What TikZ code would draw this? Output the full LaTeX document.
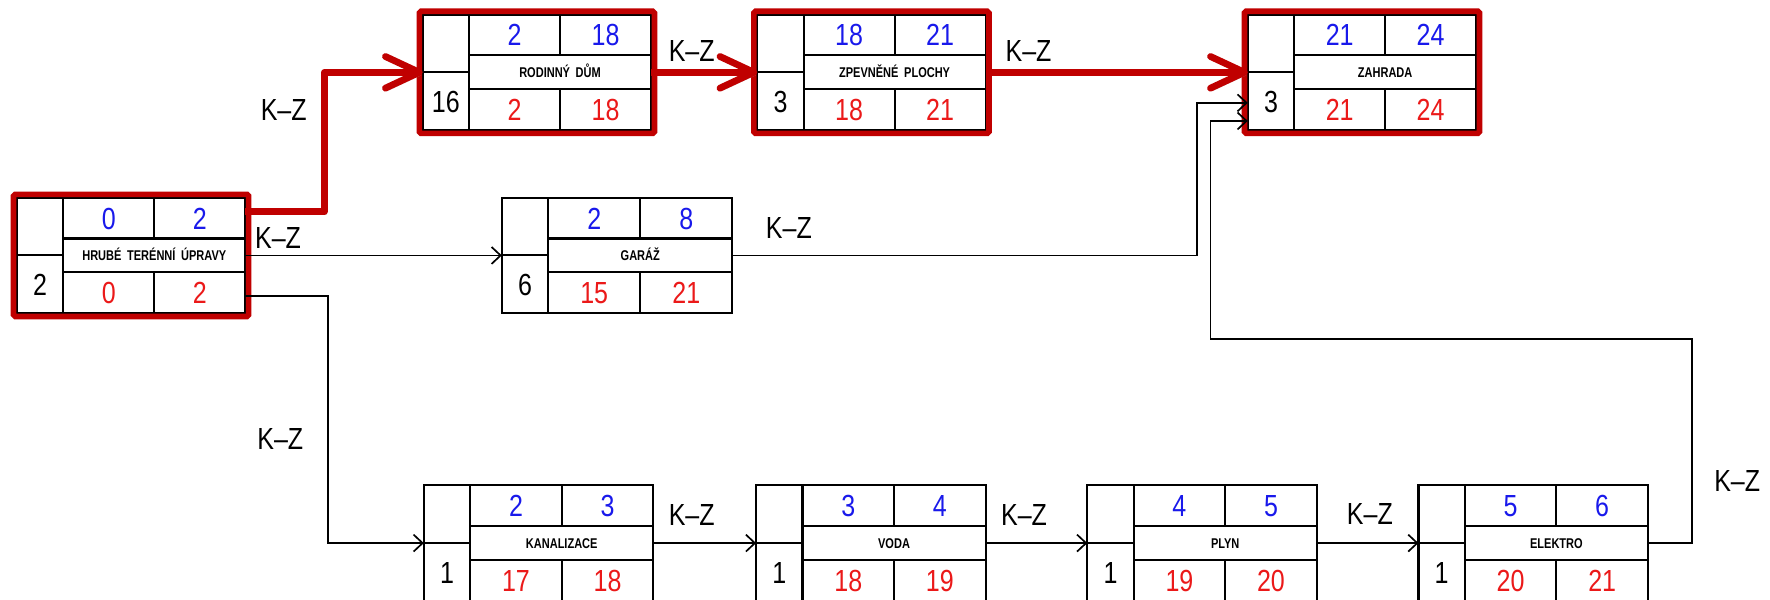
\documentclass[tikz,border=0pt]{standalone}
\usepackage{fontspec}
\usetikzlibrary{arrows.meta,calc}
\newfontfamily\cadfont[FakeStretch=0.82]{Liberation Sans}
\newfontfamily\cadbold[FakeStretch=0.78]{Liberation Sans Bold}
\definecolor{crit}{RGB}{192,0,0}
\definecolor{esblue}{RGB}{25,25,235}
\definecolor{lsred}{RGB}{235,25,25}
\newcommand\actw{202}
\newcommand\wsp{\hspace{5pt}}
\newcommand\activity[9]{%
  \pgfmathsetmacro\am{(\actw+41)/2}%
  \pgfmathsetmacro\ac{(41+\am)/2}%
  \pgfmathsetmacro\ad{(\am+\actw)/2}%
  \pgfmathsetmacro\an{(41+\actw)/2}%
  \begin{scope}[shift={(#2,#3)}]
    \node[actbox, minimum width=\actw pt] (#1) at (0,0) {};
    \draw[boxline] (41,0) -- (41,102) (0,51) -- (41,51)
      (41,36) -- (\actw,36) (41,66) -- (\actw,66)
      (\am,0) -- (\am,36) (\am,66) -- (\am,102);
    \node[numtxt] at (20.5,77) {#4};
    \node[numtxt,text=esblue] at (\ac,18) {#5};
    \node[numtxt,text=esblue] at (\ad,18) {#6};
    \node[titletxt] at (\an,51) {#7};
    \node[numtxt,text=lsred] at (\ac,84) {#8};
    \node[numtxt,text=lsred] at (\ad,84) {#9};
  \end{scope}}
\newcommand\critical[1]{\draw[critbox] ($(#1.north west)+(-3,-3)$) rectangle ($(#1.south east)+(3,3)$);}
\tikzset{
  actbox/.style={draw, line width=1.8pt, minimum height=102pt, inner sep=0pt, outer sep=0pt, anchor=north west},
  boxline/.style={line width=1.8pt},
  numtxt/.style={inner sep=0pt, font=\cadfont\fontsize{27}{27}\selectfont, text height=19.3pt, text depth=0pt},
  titletxt/.style={inner sep=0pt, font=\cadbold\fontsize{12.5}{12.5}\selectfont, text height=9pt, text depth=0pt},
  lab/.style={inner sep=0pt, font=\cadfont\fontsize{27}{27}\selectfont, text height=19.3pt, text depth=0pt},
  conn/.style={draw, line width=1.5pt, -{Straight Barb[length=8pt,width=15pt]}},
  critconn/.style={draw=crit, line width=6pt, line join=round,
     -{Straight Barb[length=30pt,width=28pt,round]},
     preaction={draw=black!30, opacity=0.45, transform canvas={shift={(1.5pt,-2.5pt)}}}},
  critbox/.style={draw=crit, line width=5pt, rounded corners=1.5pt},
}
\begin{document}
\begin{tikzpicture}[x=1pt,y=-1pt]
\useasboundingbox[fill=white] (0,0) rectangle (1566,530);
% activities
\activity{hrube}{15}{175}{2}{0}{2}{HRUBÉ\wsp TERÉNNÍ\wsp ÚPRAVY}{0}{2}
\activity{rodinny}{374}{13}{16}{2}{18}{RODINNÝ\wsp DŮM}{2}{18}
\activity{zpevnene}{670}{13}{3}{18}{21}{ZPEVNĚNÉ\wsp PLOCHY}{18}{21}
\activity{zahrada}{1104}{13}{3}{21}{24}{ZAHRADA}{21}{24}
\renewcommand\actw{204}
\activity{garaz}{444}{175}{6}{2}{8}{GARÁŽ}{15}{21}
\renewcommand\actw{203}
\activity{kanalizace}{375}{429.5}{1}{2}{3}{KANALIZACE}{17}{18}
\activity{voda}{669}{429.5}{1}{3}{4}{VODA}{18}{19}
\activity{plyn}{962}{429.5}{1}{4}{5}{PLYN}{19}{20}
\activity{elektro}{1255}{429.5}{1}{5}{6}{ELEKTRO}{20}{21}
% critical path highlight
\critical{hrube}
\critical{rodinny}
\critical{zpevnene}
\critical{zahrada}
% helper coordinates
\coordinate (zin1) at ($(zahrada.north west)+(0,78)$);
\coordinate (zin2) at ($(zahrada.north west)+(0,94)$);
\coordinate (hr1) at ($(hrube.north east)+(0,12)$);
\coordinate (hr3) at ($(hrube.south east)+(0,-15)$);
% black connectors
\draw[conn] (hrube.east) -- (hrube.east -| garaz.west);
\draw[conn] (hr3) -- ++(73,0) |- (kanalizace.west);
\draw[conn] (garaz.east) -| ($(zin1)+(-45,0)$) -- (zin1);
\draw[conn] (kanalizace.east) -- (voda.west);
\draw[conn] (voda.east) -- (plyn.west);
\draw[conn] (plyn.east) -- (elektro.west);
\draw[conn] (elektro.east) -- ++(39,0) |- ($(zin2)+(-33,193)$) -- ($(zin2)+(-33,0)$) -- (zin2);
% critical connectors
\draw[critconn] (hr1) -- ++(70,0) |- (rodinny.west);
\draw[critconn] (rodinny.east) -- (zpevnene.west);
\draw[critconn] (zpevnene.east) -- (zahrada.west);
% labels
\node[lab] (l1) at (251,97) {K–Z};
\node[lab] (l2) at (246,210) {K–Z};
\node[lab] (l3) at (248,388) {K–Z};
\node[lab] (l4) at (612,45) {K–Z};
\node[lab] (l5) at (910,45) {K–Z};
\node[lab] (l6) at (698,201) {K–Z};
\node[lab] (l7) at (612,455) {K–Z};
\node[lab] (l8) at (906,455) {K–Z};
\node[lab] (l9) at (1212,454) {K–Z};
\node[lab] (l10) at (1537,425) {K–Z};
\end{tikzpicture}
\end{document}
